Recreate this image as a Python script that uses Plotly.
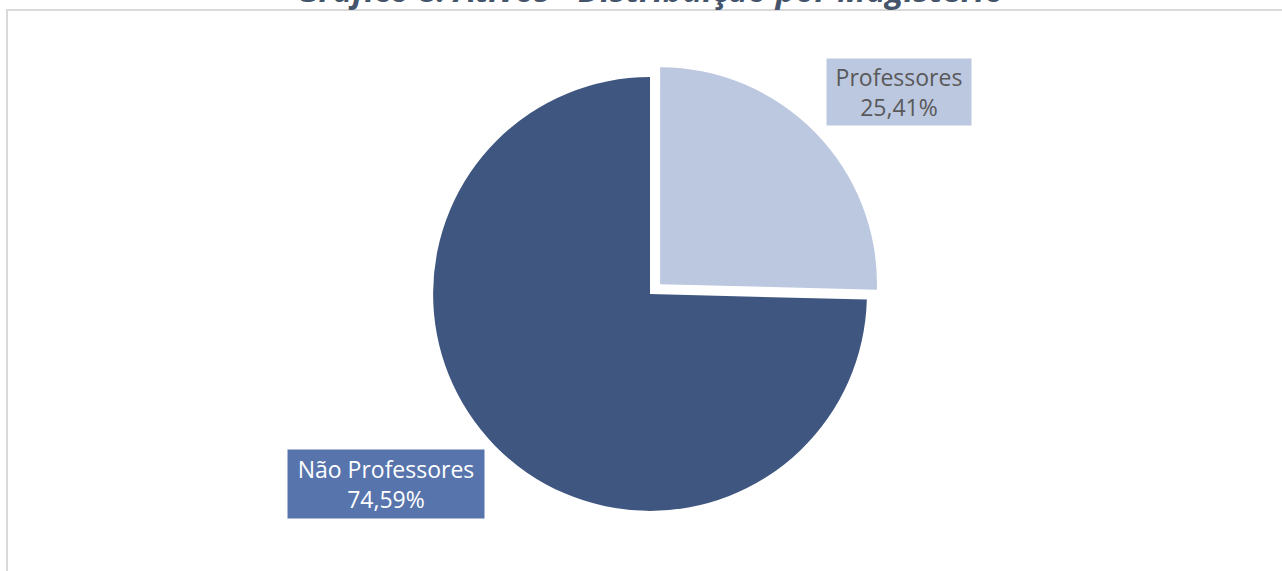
import plotly.graph_objects as go

categories = ["Professores", "Não Professores"]
values = [25.41, 74.59]
slice_colors = ["#bcc8e0", "#3f5780"]
box_colors = ["#bcc8e0", "#5874ad"]
text_colors = ["#595959", "#ffffff"]
title_text = "Gráfico 8: Ativos - Distribuição por Magistério"

W, H = 1282, 571

def px(x):
    return x / W

def py(y):
    return 1 - y / H

fig = go.Figure()
fig.add_trace(go.Pie(
    labels=categories,
    values=values,
    sort=False,
    direction="clockwise",
    rotation=0,
    pull=[0.065, 0],
    marker=dict(colors=slice_colors, line=dict(color="#ffffff", width=0)),
    textinfo="none",
    hoverinfo="label+percent",
    showlegend=False,
    domain=dict(x=[px(419), px(881)], y=[py(525), py(63)]),
))

def fmt(v):
    return f"{v:.2f}".replace(".", ",") + "%"

label_pos = [(899, 92), (386, 484)]
label_size = [(136, 58), (188, 60)]
for i, (cat, val) in enumerate(zip(categories, values)):
    fig.add_annotation(
        x=px(label_pos[i][0]), y=py(label_pos[i][1]), xref="paper", yref="paper",
        text=f"{cat}<br>{fmt(val)}", showarrow=False,
        font=dict(family="Open Sans", size=23, color=text_colors[i]),
        bgcolor=box_colors[i], borderpad=4, align="center",
        width=label_size[i][0], height=label_size[i][1],
        xanchor="center", yanchor="middle",
    )

fig.add_annotation(
    x=px(650), y=py(13), xref="paper", yref="paper",
    text=f"<b><i>{title_text}</i></b>", showarrow=False,
    font=dict(family="Open Sans", size=33, color="#44546a"),
    xanchor="center", yanchor="bottom", borderpad=0,
)

fig.add_shape(type="rect", xref="paper", yref="paper",
              x0=px(7), x1=1.2, y0=-0.2, y1=py(10),
              line=dict(color="#d9d9d9", width=2), fillcolor="rgba(0,0,0,0)")

fig.update_layout(
    width=W, height=H,
    margin=dict(l=0, r=0, t=0, b=0),
    paper_bgcolor="#ffffff", plot_bgcolor="#ffffff",
)

fig.write_html("out.html", config={"displayModeBar": False},
               post_script="document.body.style.margin='0';document.body.style.overflow='hidden';")
